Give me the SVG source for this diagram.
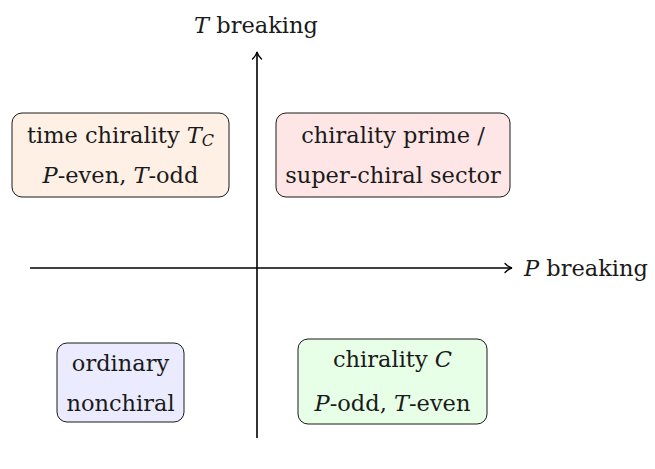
<svg xmlns="http://www.w3.org/2000/svg" width="655" height="469" viewBox="0 0 655 469">
<style>
text{font-family:"DejaVu Serif",serif;font-size:22.5px;fill:#1a1a1a;text-anchor:middle}
.i{font-style:italic}
.box{stroke:#1a1a1a;stroke-width:1}
.ax{stroke:#000;stroke-width:1.6;fill:none}
</style>
<defs>
<marker id="to" viewBox="-7 -6 9 12" refX="1" refY="0" markerWidth="9" markerHeight="12" markerUnits="userSpaceOnUse" orient="auto">
<path d="M-6,-4.5 C-3.5,-1.8 -1.2,-0.5 1,0 C-1.2,0.5 -3.5,1.8 -6,4.5" fill="none" stroke="#000" stroke-width="1.3" stroke-linecap="round"/>
</marker>
</defs>
<g id="axes">
<line class="ax" x1="30" y1="268" x2="512" y2="268" marker-end="url(#to)"/>
<line class="ax" x1="257" y1="438" x2="257" y2="52" marker-end="url(#to)"/>
</g>
<g id="label-T"><text x="256" y="33"><tspan class="i">T</tspan> breaking</text></g>
<g id="label-P"><text x="586" y="276"><tspan class="i">P</tspan> breaking</text></g>
<g id="time-chirality">
<rect class="box" x="12" y="113" width="217" height="84" rx="10" fill="#fff0e6"/>
<text x="120.5" y="143">time chirality <tspan class="i">T</tspan><tspan class="i" font-size="16" dy="3">C</tspan></text>
<text x="120.5" y="183"><tspan class="i">P</tspan>-even, <tspan class="i">T</tspan>-odd</text>
</g>
<g id="chirality-prime">
<rect class="box" x="276" y="113" width="234" height="84" rx="10" fill="#ffe6e6"/>
<text x="393" y="143">chirality prime /</text>
<text x="393" y="183">super-chiral sector</text>
</g>
<g id="ordinary">
<rect class="box" x="57" y="343" width="127" height="79" rx="10" fill="#ebebff"/>
<text x="120.5" y="371">ordinary</text>
<text x="120.5" y="411">nonchiral</text>
</g>
<g id="chirality-C">
<rect class="box" x="298" y="339" width="189" height="85" rx="10" fill="#e6ffe6"/>
<text x="392.5" y="367">chirality <tspan class="i">C</tspan></text>
<text x="392.5" y="411"><tspan class="i">P</tspan>-odd, <tspan class="i">T</tspan>-even</text>
</g>
</svg>
